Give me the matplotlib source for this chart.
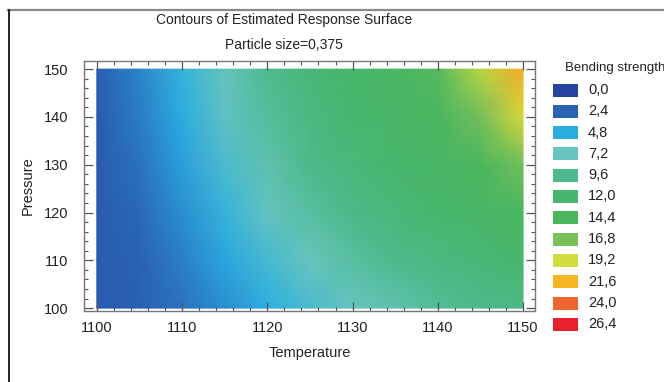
import numpy as np
import matplotlib
matplotlib.use("Agg")
import matplotlib.pyplot as plt
from matplotlib.colors import LinearSegmentedColormap
from matplotlib.patches import Rectangle
from matplotlib.lines import Line2D
from matplotlib.ticker import MultipleLocator

plt.rcParams["font.family"] = ["Liberation Sans", "DejaVu Sans"]

# ── Data ──────────────────────────────────────────────────────────────────────

temperature = [1100, 1105, 1110, 1115, 1120, 1125, 1130, 1135, 1140, 1145, 1150]
pressure = [100, 110, 120, 130, 140, 150]

# estimated bending strength, one row per pressure
strength_p100 = [2.0, 2.3, 2.9, 3.9, 4.9, 6.1, 7.2, 8.0, 9.0, 9.6, 10.2]
strength_p110 = [2.0, 2.4, 3.4, 4.6, 5.9, 7.3, 8.6, 9.6, 10.5, 11.2, 12.0]
strength_p120 = [2.0, 2.6, 3.9, 5.3, 7.1, 8.6, 9.9, 11.0, 12.0, 12.9, 14.0]
strength_p130 = [2.0, 2.9, 4.4, 6.1, 8.0, 9.7, 11.0, 12.0, 13.0, 14.5, 16.5]
strength_p140 = [2.0, 3.2, 4.8, 6.9, 8.8, 10.5, 11.8, 12.8, 14.0, 16.5, 19.5]
strength_p150 = [2.1, 3.6, 5.3, 7.5, 9.4, 11.2, 12.3, 13.3, 15.0, 18.5, 21.8]

levels = [0.0, 2.4, 4.8, 7.2, 9.6, 12.0, 14.4, 16.8, 19.2, 21.6, 24.0, 26.4]
level_labels = ["0,0", "2,4", "4,8", "7,2", "9,6", "12,0", "14,4",
                "16,8", "19,2", "21,6", "24,0", "26,4"]
level_colors = ["#2443a0", "#2a62b5", "#2aaee2", "#68c5be", "#4cba8c", "#48b66c",
                "#4ab65e", "#78c05a", "#d0dd3c", "#f8b523", "#ee6530", "#e8212d"]

# ── Figure ────────────────────────────────────────────────────────────────────

fig = plt.figure(figsize=(6.64, 3.82), dpi=100)
ax = fig.add_axes([84 / 664, 1 - 311 / 382, 451 / 664, 250 / 382])

Z = np.array([strength_p100, strength_p110, strength_p120,
              strength_p130, strength_p140, strength_p150])
T, P = np.meshgrid(temperature, pressure)

vmax = levels[-1]
cmap = LinearSegmentedColormap.from_list(
    "bend", [(v / vmax, c) for v, c in zip(levels, level_colors)])
ax.pcolormesh(T, P, Z, shading="gouraud", cmap=cmap, vmin=0, vmax=vmax,
              rasterized=True)

ax.set_xlim(1098.5, 1151.4)
ax.set_ylim(99.4, 151.7)
ax.xaxis.set_major_locator(MultipleLocator(10))
ax.xaxis.set_minor_locator(MultipleLocator(2))
ax.yaxis.set_major_locator(MultipleLocator(10))
ax.yaxis.set_minor_locator(MultipleLocator(2))
ax.tick_params(which="both", direction="in", top=True, right=True,
               color="#555555", labelsize=10.5, labelcolor="#222222")
ax.tick_params(which="major", length=6.5, width=0.9)
ax.tick_params(which="minor", length=3, width=0.8)
ax.tick_params(axis="x", which="major", pad=7)
ax.tick_params(axis="y", which="major", pad=11)
for sp in ax.spines.values():
    sp.set_color("#777777")
    sp.set_linewidth(1.0)

ax.set_xlabel("Temperature", fontsize=10.5, color="#222222", labelpad=8)
ax.set_ylabel("Pressure", fontsize=10.5, color="#222222", labelpad=7)

fig.text(284 / 664, 1 - 20 / 382, "Contours of Estimated Response Surface",
         ha="center", va="center", fontsize=10, color="#222222")
fig.text(284 / 664, 1 - 45 / 382, "Particle size=0,375",
         ha="center", va="center", fontsize=10, color="#222222")

# legend, drawn by hand at the right of the plot
fig.text(565 / 664, 1 - 68 / 382, "Bending strength", ha="left", va="center",
         fontsize=9.5, color="#222222")
for i, (lab, col) in enumerate(zip(level_labels, level_colors)):
    yc = 90 + i * 21.3
    fig.add_artist(Rectangle((553 / 664, 1 - (yc + 6.5) / 382), 25 / 664, 13 / 382,
                             transform=fig.transFigure, facecolor=col,
                             edgecolor="none"))
    fig.text(588 / 664, 1 - yc / 382, lab, ha="left", va="center",
             fontsize=10.5, color="#222222")

# outer frame (top and left edges only are visible)
fig.add_artist(Line2D([8 / 664, 1], [1 - 9.5 / 382] * 2, transform=fig.transFigure,
                      color="#8a8a8a", lw=1.6))
fig.add_artist(Line2D([9 / 664] * 2, [0, 1 - 9.5 / 382], transform=fig.transFigure,
                      color="#222222", lw=1.4))

fig.savefig("out.png", dpi=100)
